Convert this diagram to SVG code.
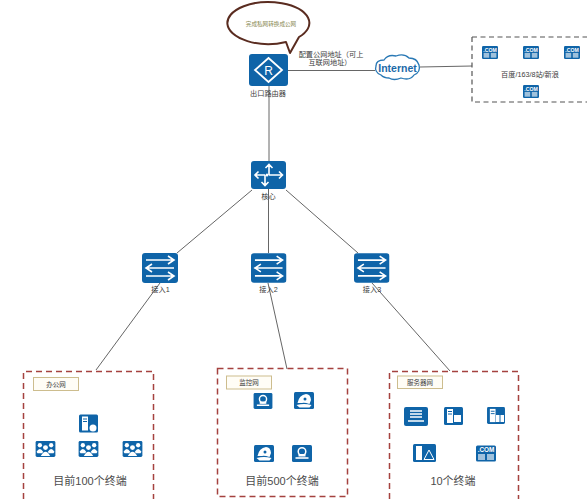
<svg xmlns="http://www.w3.org/2000/svg" width="588" height="499" viewBox="0 0 588 499">
<style>
text{font-family:"Liberation Sans","Noto Sans CJK SC",sans-serif;fill:#3c3c3c;text-anchor:middle}
.s{font-size:7.2px}
.m{font-size:6.5px}
.b{font-size:11px;fill:#4c4c4c}
.c{font-size:6.4px;font-weight:bold;fill:#fff}
.zone{fill:none;stroke:#a5423f;stroke-width:1.5;stroke-dasharray:6 4}
.tag{fill:#fffdf6;stroke:#cdbd8e;stroke-width:1}
.lnk{fill:none;stroke:#666;stroke-width:1}
.w{fill:none;stroke:#fff;stroke-width:1.6}
.f{fill:#fff}
.bg{fill:#0f64a8}
</style>
<defs>
<symbol id="sw" viewBox="0 0 36 30">
<rect class="bg" width="36" height="30" rx="3"/>
<path class="w" d="M4 7H31M26 3L32 7L26 11M32 15H5M10 11L4 15L10 19M4 23H31M26 19L32 23L26 27"/>
</symbol>
<symbol id="com" viewBox="0 0 20 16">
<rect class="bg" width="20" height="16" rx="1.500"/>
<text class="c" x="10" y="6.800">.COM</text>
<rect class="f" x="2" y="8.500" width="7" height="6" opacity=".6"/>
<rect class="f" x="11" y="8.500" width="7" height="6" opacity=".6"/>
</symbol>
<symbol id="grp" viewBox="0 0 21 17">
<rect class="bg" width="21" height="17" rx="1.500"/>
<g class="f"><circle cx="4.500" cy="4.500" r="2.300"/><circle cx="16.500" cy="4.500" r="2.300"/><circle cx="10.500" cy="7" r="2.600"/>
<path d="M1 11.500Q4.500 5.500 8 11.500L7 13H2ZM13 11.500Q16.500 5.500 20 11.500L19 13H14ZM5.500 16Q10.500 7 15.500 16Z"/></g>
</symbol>
<symbol id="mon" viewBox="0 0 20 17">
<rect class="bg" width="20" height="17" rx="1.500"/>
<circle cx="10" cy="6.500" r="3.800" fill="none" stroke="#fff" stroke-width="1.500"/>
<path class="w" d="M3.500 13H16.500" stroke-width="1.300"/><path class="f" d="M6.500 9H13.500V11.500H6.500Z"/>
</symbol>
<symbol id="cam" viewBox="0 0 20 17">
<rect class="bg" width="20" height="17" rx="1.500"/>
<path class="f" d="M3.500 11Q5 3 12 2Q16.500 2 17 8L15.500 12Q10 10 8 11ZM2.500 13Q10 11 17.500 13L15.500 15.500H5.500Z"/>
<circle cx="11" cy="7" r="1.500" fill="#0f64a8"/>
</symbol>
<symbol id="srv" viewBox="0 0 19 18">
<rect class="bg" width="19" height="18" rx="1.500"/>
<rect class="f" x="3" y="2" width="6" height="14"/>
<path d="M4 4.500H8M4 7H8" stroke="#0f64a8" stroke-width="1"/>
</symbol>
</defs>

<g id="connectors">
<path class="lnk" d="M269 86V161M268.500 189V253M252 190L177 253M286 190L358 253M160 283L96 370M268 283L287 369M372 283L450 371"/>
<path class="lnk" d="M288 70.500H375M420 67L472 66"/>
</g>

<g id="bubble">
<path d="M286 42A41 21 0 1 1 299 37L290 53Z" fill="#fff" stroke="#5a2c20" stroke-width="2" stroke-linejoin="round"/>
<text x="271" y="25.500" style="font-size:5.600px;fill:#8b8b55">完成私网转换成公网</text>
</g>

<g id="router">
<rect class="bg" x="249" y="54" width="39" height="32" rx="3"/>
<path d="M268.500 58L282 70L268.500 82L255 70Z" fill="none" stroke="#fff" stroke-width="1.800"/>
<text x="268.500" y="74.500" style="font-size:12px;fill:#fff">R</text>
<text class="s" x="268" y="95.500">出口路由器</text>
</g>
<text class="s" x="331" y="56.500">配置公网地址（可上</text>
<text class="s" x="330" y="65">互联网地址）</text>

<g id="internet">
<path d="M381 75Q374 72 376 66Q376 60 384 60Q388 54 396 56Q404 53 409 58Q417 58 419 65Q421 72 414 75Q410 81 401 78Q394 81 389 78Q384 78 381 75Z" fill="#fff" stroke="#2a79b5" stroke-width="1.300"/>
<text x="397.500" y="71.500" style="font-size:10.500px;font-weight:bold;fill:#1b6aa8">Internet</text>
</g>

<g id="sites">
<path d="M472 37V102H587M472 37H587" fill="none" stroke="#555" stroke-width="1.200" stroke-dasharray="5 3.500"/>
<use href="#com" x="482" y="46" width="16" height="13"/>
<use href="#com" x="523" y="46" width="16" height="13"/>
<use href="#com" x="564" y="46" width="16" height="13"/>
<use href="#com" x="523" y="85" width="16" height="13"/>
<text class="s" x="530" y="77">百度/163/8站/新浪</text>
</g>

<g id="core">
<rect class="bg" x="251" y="161" width="35" height="28" rx="3"/>
<path class="w" d="M269 175V165M265.500 168L269 164.500L272.500 168M269 175H282M279 171.500L282.500 175L279 178.500M265 175V185.500M261.500 182L265 185.500L268.500 182M265 175H255M258.500 171.500L255 175L258.500 178.500"/>
<circle class="f" cx="267" cy="175" r="1.500"/>
<text class="s" x="268.500" y="198.500">核心</text>
</g>

<g id="access1"><use href="#sw" x="142" y="253" width="36" height="30"/><text class="s" x="160.500" y="291.500">接入1</text></g>
<g id="access2"><use href="#sw" x="251" y="253" width="35.500" height="30"/><text class="s" x="268.500" y="291.500">接入2</text></g>
<g id="access3"><use href="#sw" x="354" y="253" width="35.500" height="30"/><text class="s" x="372" y="291.500">接入3</text></g>

<g id="office">
<path class="zone" d="M23.500 499V371.500H153.500V499"/>
<rect class="tag" x="33.500" y="377.500" width="45" height="13"/>
<text class="m" x="56" y="386.500">办公网</text>
<use href="#srv" x="79" y="414" width="19" height="19"/>
<circle cx="93" cy="428" r="3.500" fill="#fff"/>
<use href="#grp" x="35" y="441" width="21" height="16"/>
<use href="#grp" x="78" y="441" width="21" height="16"/>
<use href="#grp" x="122" y="441" width="21" height="16"/>
<text class="b" x="90" y="485">目前100个终端</text>
</g>

<g id="monitor">
<rect class="zone" x="217.500" y="368.500" width="130" height="128"/>
<rect class="tag" x="226.500" y="376" width="45" height="13"/>
<text class="m" x="249" y="385">监控网</text>
<use href="#mon" x="253" y="393" width="20" height="16"/>
<use href="#cam" x="294" y="392" width="20" height="17"/>
<use href="#cam" x="254" y="445" width="20" height="17"/>
<use href="#mon" x="292" y="445" width="20" height="17"/>
<text class="b" x="282" y="485">目前500个终端</text>
</g>

<g id="servers">
<path class="zone" d="M389.500 499V371.500H518.500V499"/>
<rect class="tag" x="397.500" y="376" width="45" height="12.500"/>
<text class="m" x="420" y="385">服务器网</text>
<g>
<rect class="bg" x="404" y="407" width="24" height="19" rx="2"/>
<path class="w" d="M410 411H422M410 414H422M410 417H422M408 421H424" stroke-width="1.300"/>
</g>
<use href="#srv" x="444" y="407" width="19" height="18"/>
<rect class="f" x="454" y="415" width="7" height="7"/>
<use href="#srv" x="486" y="407" width="20" height="17"/>
<rect class="f" x="496" y="415" width="3.500" height="7"/><rect class="f" x="500.500" y="415" width="3.500" height="7"/>
<rect class="bg" x="413" y="444" width="23" height="18" rx="1.500"/>
<rect class="f" x="416" y="446" width="6" height="14"/>
<path d="M429 450L434 459.500H424Z" fill="none" stroke="#fff" stroke-width="1"/>
<use href="#com" x="476" y="445" width="20" height="17"/>
<text class="b" x="453" y="485">10个终端</text>
</g>
</svg>
